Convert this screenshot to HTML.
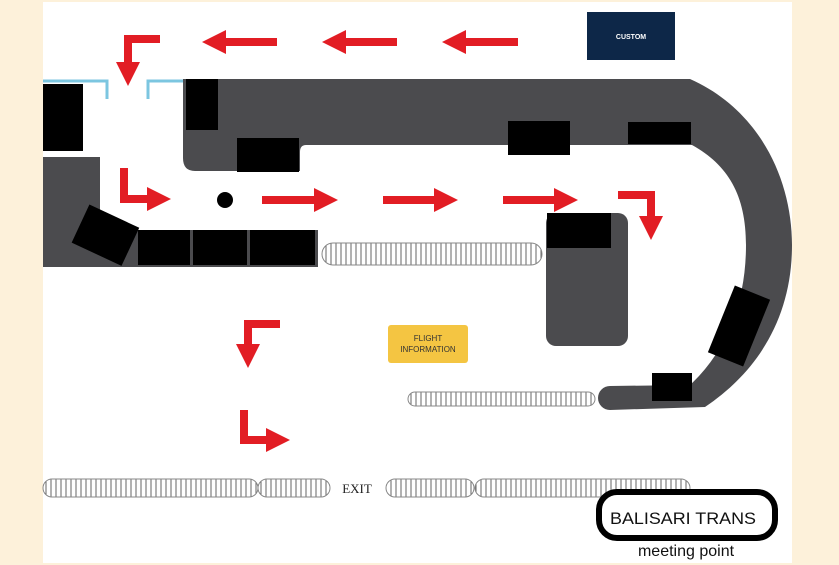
<!DOCTYPE html>
<html><head><meta charset="utf-8"><style>
html,body{margin:0;padding:0;background:#fdf1da;}
svg{display:block}
</style></head><body>
<svg width="839" height="565" viewBox="0 0 839 565" xmlns="http://www.w3.org/2000/svg" font-family="Liberation Sans, sans-serif">
<defs>
<pattern id="h" width="5" height="10" patternUnits="userSpaceOnUse"><rect width="5" height="10" fill="#fff"/><line x1="1" y1="0" x2="1" y2="10" stroke="#666" stroke-width="1"/></pattern>
<marker id="a" markerWidth="3" markerHeight="3" refX="1" refY="1.5" orient="auto" markerUnits="strokeWidth"><path d="M0,0 L3,1.5 L0,3 Z" fill="#e21d24"/></marker>
</defs>
<rect x="43" y="2" width="749" height="561" fill="#fff"/>
<path d="M183,79 L690,79 C760,110 792,180 792,245 C792,315 760,370 705,407 L610,410 A12,12 0 0 1 610,386 L690,385 C728,350 746,300 746,245 C746,195 728,165 692,145 L306,145 Q300,145 300,152 L300,171 L195,171 Q183,171 183,158 Z" fill="#4b4b4e"/>
<rect x="546" y="213" width="82" height="133" rx="10" fill="#4b4b4e"/>
<rect x="43" y="157" width="57" height="110" fill="#4b4b4e"/>
<rect x="43" y="230" width="275" height="37" fill="#4b4b4e"/>
<rect x="43" y="84" width="40" height="67" fill="#000"/>
<rect x="186" y="79" width="32" height="51" fill="#000"/>
<rect x="237" y="138" width="62" height="34" fill="#000"/>
<rect x="508" y="121" width="62" height="34" fill="#000"/>
<rect x="628" y="122" width="63" height="22" fill="#000"/>
<rect x="547" y="213" width="64" height="35" fill="#000"/>
<rect x="652" y="373" width="40" height="28" fill="#000"/>
<rect x="720" y="290" width="38" height="72" fill="#000" transform="rotate(22 739 326)"/>
<rect x="78" y="214" width="55" height="42" fill="#000" transform="rotate(25 105 235)"/>
<rect x="138" y="230" width="52" height="35" fill="#000"/>
<rect x="193" y="230" width="54" height="35" fill="#000"/>
<rect x="250" y="230" width="65" height="35" fill="#000"/>
<circle cx="225" cy="200" r="8" fill="#000"/>
<path d="M43,81 L107,81 L107,99 M183,81 L148,81 L148,99" fill="none" stroke="#7cc6e0" stroke-width="3"/>
<g fill="none" stroke="#e21d24" stroke-width="8">
<line x1="518" y1="42" x2="458" y2="42" marker-end="url(#a)"/>
<line x1="397" y1="42" x2="338" y2="42" marker-end="url(#a)"/>
<line x1="277" y1="42" x2="218" y2="42" marker-end="url(#a)"/>
<path d="M160,39 L128,39 L128,70" marker-end="url(#a)"/>
<path d="M124,168 L124,199 L155,199" marker-end="url(#a)"/>
<line x1="262" y1="200" x2="322" y2="200" marker-end="url(#a)"/>
<line x1="383" y1="200" x2="442" y2="200" marker-end="url(#a)"/>
<line x1="503" y1="200" x2="562" y2="200" marker-end="url(#a)"/>
<path d="M618,195 L651,195 L651,224" marker-end="url(#a)"/>
<path d="M280,324 L248,324 L248,352" marker-end="url(#a)"/>
<path d="M244,410 L244,440 L274,440" marker-end="url(#a)"/>
</g>
<rect x="587" y="12" width="88" height="48" fill="#0d2748"/>
<text x="631" y="39" font-size="7" font-weight="bold" fill="#fff" text-anchor="middle">CUSTOM</text>
<rect x="388" y="325" width="80" height="38" rx="3" fill="#f4c542"/>
<text x="428" y="341" font-size="8" fill="#333" text-anchor="middle">FLIGHT</text>
<text x="428" y="352" font-size="8" fill="#333" text-anchor="middle">INFORMATION</text>
<g fill="url(#h)" stroke="#888" stroke-width="1">
<rect x="322" y="243" width="220" height="22" rx="11"/>
<rect x="408" y="392" width="187" height="14" rx="7"/>
<rect x="43" y="479" width="215" height="18" rx="9"/>
<rect x="258" y="479" width="72" height="18" rx="9"/>
<rect x="386" y="479" width="88" height="18" rx="9"/>
<rect x="475" y="479" width="215" height="18" rx="9"/>
</g>
<text x="357" y="493" font-family="Liberation Serif, serif" font-size="13" fill="#222" text-anchor="middle">EXIT</text>
<rect x="599" y="492" width="176" height="46" rx="18" fill="#fff" stroke="#000" stroke-width="6"/>
<text x="610" y="524" font-size="17" fill="#111" textLength="146" lengthAdjust="spacingAndGlyphs">BALISARI TRANS</text>
<text x="686" y="556" font-size="16" fill="#111" text-anchor="middle">meeting point</text>
</svg>
</body></html>
